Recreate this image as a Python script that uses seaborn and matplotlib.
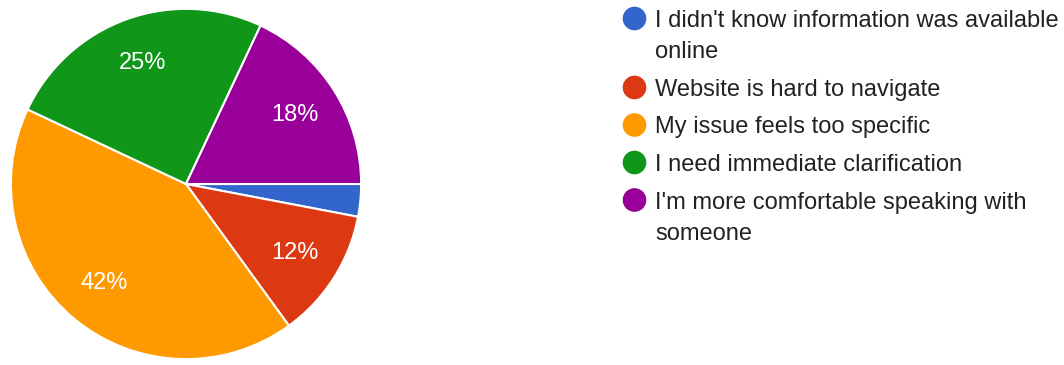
import matplotlib
matplotlib.use("Agg")
import matplotlib.pyplot as plt
import seaborn as sns

sns.set_theme(style="white")
plt.rcParams["font.family"] = ["Liberation Sans", "DejaVu Sans"]

# Survey answers and their share of responses (percent)
categories = [
    "I didn't know information was available\nonline",
    "Website is hard to navigate",
    "My issue feels too specific",
    "I need immediate clarification",
    "I'm more comfortable speaking with\nsomeone",
]
shares = [3, 12, 42, 25, 18]
colors = ["#3366cc", "#dc3912", "#ff9900", "#109618", "#990099"]

W, H = 1064, 365
fig = plt.figure(figsize=(W / 100, H / 100), dpi=100)
fig.patch.set_facecolor("white")

# Pie axes: a square region on the left
pie_ax = fig.add_axes([10 / W, 5 / H, 352 / W, 352 / H])


def pct_label(p):
    return f"{p:.0f}%" if p >= 5 else ""


wedges, texts, autotexts = pie_ax.pie(
    shares,
    colors=colors,
    startangle=0,
    counterclock=False,
    autopct=pct_label,
    pctdistance=0.735,
    wedgeprops=dict(edgecolor="white", linewidth=1.5),
    textprops=dict(color="white", fontsize=17),
)
pie_ax.set_xlim(-1.005, 1.005)
pie_ax.set_ylim(-1.005, 1.005)
pie_ax.set_aspect("equal")

# Legend drawn in pixel coordinates on an overlay axes
leg_ax = fig.add_axes([0, 0, 1, 1])
leg_ax.set_xlim(0, W)
leg_ax.set_ylim(H, 0)
leg_ax.axis("off")

y = 18.5
for label, color in zip(categories, colors):
    leg_ax.scatter([634.5], [y], s=290, color=color, edgecolor="none")
    lines = label.split("\n")
    for i, line in enumerate(lines):
        leg_ax.text(655, y + i * 31.5, line, fontsize=17, color="#222222",
                    va="center_baseline", ha="left")
    y += 37.5 + (len(lines) - 1) * 31.5

fig.savefig("out.png", dpi=100, facecolor="white")
